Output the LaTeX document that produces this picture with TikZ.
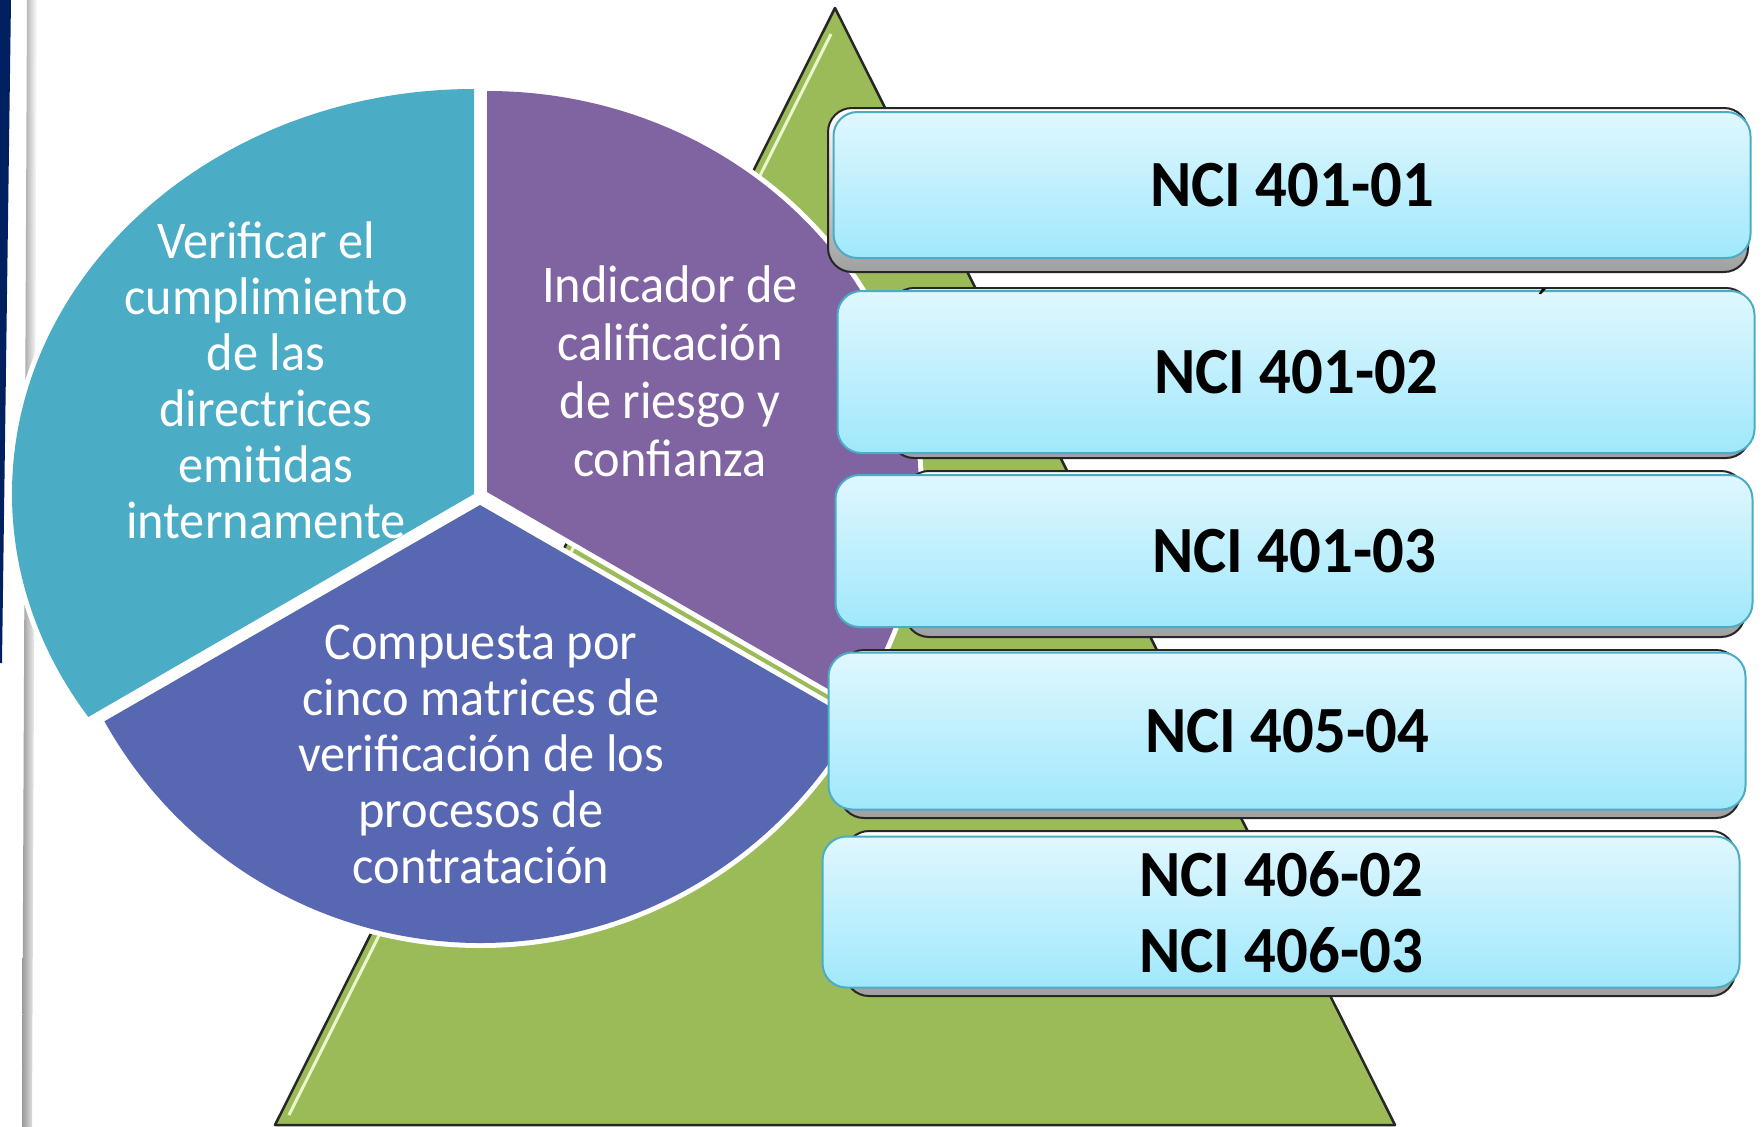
\documentclass[tikz,border=0pt]{standalone}
\usepackage{fontspec}
\setmainfont{Carlito}
\newfontfamily\piefont{Carlito}[FakeStretch=0.95]
\newfontfamily\ncifont{Carlito}[FakeStretch=0.95]
\usetikzlibrary{positioning,calc}
\definecolor{navy}{RGB}{0,32,96}
\definecolor{verificar}{RGB}{75,172,198}
\definecolor{indicador}{RGB}{128,100,162}
\definecolor{compuesta}{RGB}{88,103,177}
\definecolor{piramide}{RGB}{155,187,89}
\definecolor{boxtop}{RGB}{224,247,254}
\definecolor{boxbottom}{RGB}{160,232,252}
\definecolor{boxline}{RGB}{75,172,198}

\begin{document}
\begin{tikzpicture}[
    x=1pt, y=1pt,
    sector/.style={fill=#1, preaction={draw=white, line width=10pt, line join=round}},
    pietext/.style={text=white, align=center, inner sep=0pt, font=\piefont\fontsize{53}{56}\selectfont},
    backbox/.style={rounded corners=24pt, draw=black!85, line width=2pt, top color=white, bottom color=gray!75},
    nci/.style={rectangle, rounded corners=24pt, draw=boxline, line width=2pt, top color=boxtop, bottom color=boxbottom,
        minimum width=917pt, align=center, font=\ncifont\bfseries\fontsize{66}{76}\selectfont}
]
\fill[white] (0,0) rectangle (1762,-1127);
\useasboundingbox (0,0) rectangle (1762,-1127);

% Left margin
\fill[navy] (0,0) -- (11,0) -- (2,-663) -- (0,-663) -- cycle;
\shade[left color=gray!80, right color=white] (27,0) -- (37,0) -- (32,-1127) -- (22,-1127) -- cycle;

% Pyramid
\filldraw[fill=piramide, draw=black!85, line width=2.5pt, line join=round] (835,-8) -- (1395,-1125) -- (275,-1125) -- cycle;
\draw[line width=3pt, color={rgb,255:red,236;green,246;blue,204}] (831,-34) -- (289,-1115);

% Pie
\path[sector=verificar] (474,-494) -- ++(0,405) arc[start angle=90, end angle=213.4, x radius=462, y radius=405] -- cycle;
\path[sector=indicador] (487,-492) -- ++(0,401) arc[start angle=90, end angle=-31.9, x radius=432, y radius=401] -- cycle;
\path[sector=compuesta] (480,-505) -- ++(-375.6,-216.3) arc[start angle=209.6, end angle=330.4, x radius=432, y radius=438] -- cycle;

\node[pietext] (verificar) at (266,-380) {Verificar el\\cumplimiento\\de las\\directrices\\emitidas\\internamente};
\node[pietext, font=\piefont\fontsize{53}{58}\selectfont] (indicador) at (670,-371) {Indicador de\\calificación\\de riesgo y\\confianza};
\node[pietext] (compuesta) at (481,-754) {Compuesta por\\cinco matrices de\\verificación de los\\procesos de\\contratación};

% Boxes
\draw[backbox] (828,-108) rectangle (1748,-272);
\node[nci, minimum height=146pt] (nci1) at (1292,-185) {NCI 401-01};

\draw[backbox] (890,-288) rectangle (1750,-458);
\node[nci, minimum height=162pt] (nci2) at (1296,-372) {NCI 401-02};

\draw[backbox] (905,-471) rectangle (1745,-637);
\node[nci, minimum height=152pt] (nci3) at (1294,-551) {NCI 401-03};

\draw[backbox] (840,-650) rectangle (1740,-818);
\node[nci, minimum height=157pt] (nci4) at (1287,-731) {NCI 405-04};

\draw[backbox] (845,-831) rectangle (1735,-996);
\node[nci, minimum height=151pt] (nci5) at (1281,-912) {NCI 406-02\\NCI 406-03};

\node[inner sep=0pt, font=\fontsize{40}{40}\selectfont] (acento) at (1543,-303) {´};

\end{tikzpicture}
\end{document}
